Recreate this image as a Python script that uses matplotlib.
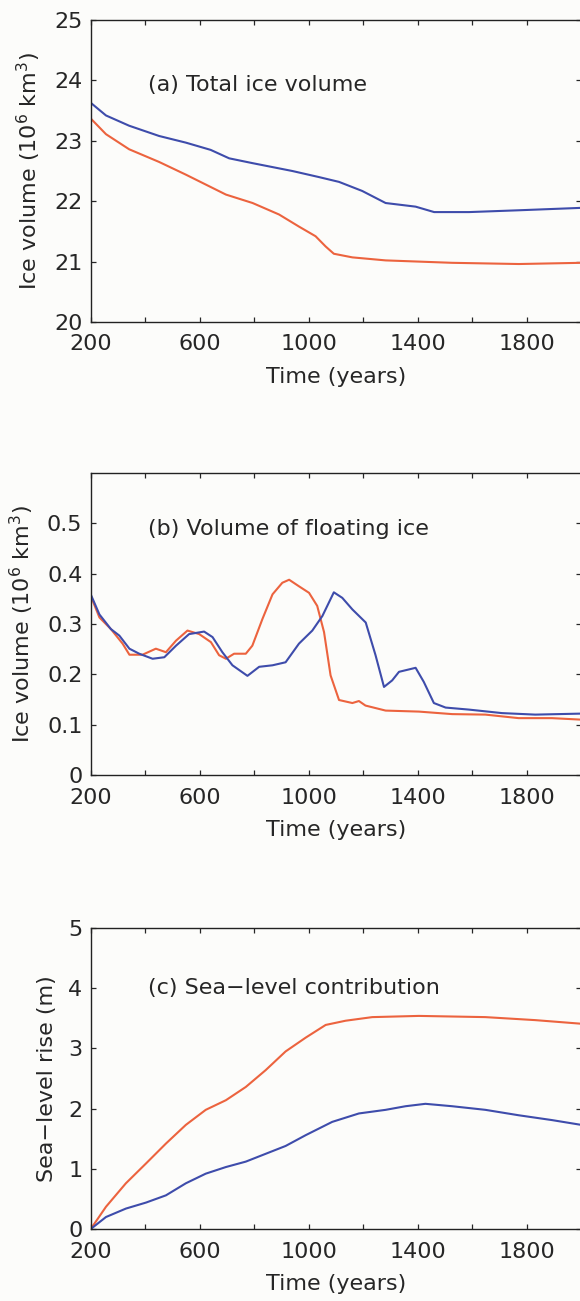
import numpy as np
import matplotlib
matplotlib.use("Agg")
import matplotlib.pyplot as plt

# ---- data (years, values) ----
# (a) total ice volume, 10^6 km^3
vol_blue_t = [200, 256, 341, 451, 549, 640, 708, 794, 940, 1037, 1111, 1196, 1282,
              1392, 1460, 1588, 1771, 2000]
vol_blue = [23.63, 23.42, 23.25, 23.08, 22.97, 22.85, 22.71, 22.63, 22.50, 22.40,
            22.32, 22.17, 21.97, 21.91, 21.82, 21.82, 21.85, 21.89]
vol_red_t = [200, 256, 341, 451, 549, 696, 794, 891, 964, 1025, 1062, 1092, 1160,
             1282, 1526, 1771, 2000]
vol_red = [23.37, 23.11, 22.86, 22.65, 22.44, 22.11, 21.97, 21.78, 21.58, 21.42,
           21.25, 21.13, 21.07, 21.02, 20.98, 20.96, 20.98]

# (b) floating ice volume, 10^6 km^3
flt_blue_t = [200, 232, 274, 305, 342, 378, 427, 470, 513, 561, 616, 647, 683, 720,
              775, 818, 867, 915, 964, 1013, 1050, 1092, 1123, 1160, 1209, 1245,
              1276, 1306, 1331, 1392, 1422, 1459, 1502, 1587, 1709, 1831, 2000]
flt_blue = [0.359, 0.319, 0.290, 0.277, 0.251, 0.241, 0.231, 0.234, 0.257, 0.280,
            0.285, 0.274, 0.244, 0.218, 0.197, 0.215, 0.218, 0.224, 0.261, 0.287,
            0.316, 0.363, 0.352, 0.329, 0.303, 0.238, 0.175, 0.188, 0.205, 0.213,
            0.185, 0.143, 0.134, 0.130, 0.123, 0.120, 0.122]
flt_red_t = [200, 232, 274, 317, 342, 390, 439, 476, 513, 555, 598, 641, 671, 696,
             726, 769, 793, 830, 867, 903, 928, 964, 1001, 1031, 1056, 1080, 1111,
             1160, 1184, 1208, 1282, 1404, 1526, 1648, 1770, 1892, 2000]
flt_red = [0.356, 0.313, 0.290, 0.261, 0.239, 0.239, 0.251, 0.244, 0.267, 0.287,
           0.280, 0.264, 0.238, 0.231, 0.241, 0.241, 0.257, 0.310, 0.359, 0.382,
           0.388, 0.375, 0.362, 0.336, 0.284, 0.198, 0.149, 0.143, 0.147, 0.138,
           0.128, 0.126, 0.121, 0.120, 0.113, 0.113, 0.110]

# (c) sea-level contribution, m
sl_t = [200, 256, 329, 403, 476, 549, 622, 696, 769, 842, 915, 989, 1062, 1135,
        1233, 1404, 1648, 1831, 2000]
sl_red = [0.0, 0.37, 0.76, 1.09, 1.42, 1.73, 1.98, 2.14, 2.36, 2.64, 2.95, 3.18,
          3.39, 3.46, 3.52, 3.54, 3.52, 3.47, 3.41]
sl_blue_t = [200, 256, 329, 403, 476, 549, 622, 696, 769, 842, 915, 989, 1086, 1184,
             1282, 1355, 1428, 1526, 1648, 1770, 1892, 2000]
sl_blue = [0.0, 0.20, 0.34, 0.44, 0.56, 0.76, 0.92, 1.03, 1.12, 1.25, 1.38, 1.56,
           1.78, 1.92, 1.98, 2.04, 2.08, 2.04, 1.98, 1.89, 1.81, 1.73]

x_ticks = list(range(200, 2001, 200))
x_ticklabels = ["200", "", "600", "", "1000", "", "1400", "", "1800", ""]

panels = [
    dict(series=[(vol_red_t, vol_red), (vol_blue_t, vol_blue)],
         ylim=(20, 25), yticks=[20, 21, 22, 23, 24, 25],
         yticklabels=["20", "21", "22", "23", "24", "25"],
         ylabel="Ice volume (10$^6$ km$^3$)",
         title="(a) Total ice volume", title_y=23.93,
         rect=[0.1564, 0.7525, 0.8459, 0.2321]),
    dict(series=[(flt_red_t, flt_red), (flt_blue_t, flt_blue)],
         ylim=(0, 0.6), yticks=[0, 0.1, 0.2, 0.3, 0.4, 0.5],
         yticklabels=["0", "0.1", "0.2", "0.3", "0.4", "0.5"],
         ylabel="Ice volume (10$^6$ km$^3$)",
         title="(b) Volume of floating ice", title_y=0.488,
         rect=[0.1564, 0.4043, 0.8459, 0.2321]),
    dict(series=[(sl_t, sl_red), (sl_blue_t, sl_blue)],
         ylim=(0, 5), yticks=[0, 1, 2, 3, 4, 5],
         yticklabels=["0", "1", "2", "3", "4", "5"],
         ylabel="Sea\u2212level rise (m)",
         title="(c) Sea\u2212level contribution", title_y=4.0,
         rect=[0.1564, 0.0553, 0.8459, 0.2314]),
]

colors = ["#ec633e", "#3e4cab"]
text_color = "#262626"
plt.rcParams["font.family"] = ["DejaVu Sans"]
plt.rcParams["mathtext.fontset"] = "dejavusans"
fsize = 16

fig = plt.figure(figsize=(5.80, 13.01), dpi=100)
fig.patch.set_facecolor("#fcfcfa")

for p in panels:
    ax = fig.add_axes(p["rect"])
    ax.set_facecolor("#fcfcfa")
    for (t, v), c in zip(p["series"], colors):
        ax.plot(t, v, color=c, lw=1.5)
    ax.set_xlim(200, 2000)
    ax.set_ylim(*p["ylim"])
    ax.set_xticks(x_ticks)
    ax.set_xticklabels(x_ticklabels)
    ax.set_yticks(p["yticks"])
    ax.set_yticklabels(p["yticklabels"])
    ax.tick_params(direction="in", length=3.6, width=0.9, top=True, right=True,
                   labelsize=fsize, colors=text_color, pad=9)
    ax.tick_params(axis="y", pad=6)
    for s in ax.spines.values():
        s.set_linewidth(1.0)
        s.set_color("#222222")
    ax.set_xlabel("Time (years)", fontsize=fsize, color=text_color, labelpad=9)
    ax.set_ylabel(p["ylabel"], fontsize=fsize, color=text_color, labelpad=8)
    ax.text(409, p["title_y"], p["title"], fontsize=fsize, color=text_color,
            ha="left", va="center")

fig.savefig("out.png", dpi=100, facecolor=fig.get_facecolor())
